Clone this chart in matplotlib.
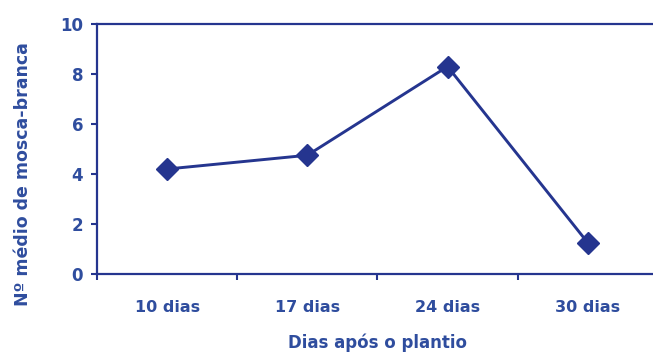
import matplotlib
matplotlib.use("Agg")
import matplotlib.pyplot as plt
import numpy as np

# data
categorias = ["10 dias", "17 dias", "24 dias", "30 dias"]
media_mosca = [4.2, 4.75, 8.3, 1.25]
y_ticks = [0, 2, 4, 6, 8, 10]

cor_linha = "#25358f"
cor_texto = "#2f4d9e"

fig = plt.figure(figsize=(6.53, 3.56), dpi=100)
ax = fig.add_axes([0.1485, 0.2303, 0.859, 0.7022])

x = np.arange(len(categorias))
ax.plot(x, media_mosca, color=cor_linha, linewidth=2.1,
        marker="D", markersize=11, markerfacecolor=cor_linha,
        markeredgecolor=cor_linha)

ax.set_xlim(-0.5, len(categorias) - 0.5)
ax.set_ylim(0, 10)
ax.set_yticks(y_ticks)
ax.set_yticklabels([str(v) for v in y_ticks], fontsize=12,
                   fontweight="bold", color=cor_texto)

# category labels centred, tick marks between categories
ax.set_xticks(x)
ax.set_xticklabels(categorias, fontsize=11.5, fontweight="bold", color=cor_texto)
ax.tick_params(axis="x", which="major", length=0, pad=19)
ax.set_xticks(np.arange(len(categorias) + 1) - 0.5, minor=True)
ax.tick_params(axis="x", which="minor", length=4, width=1.5,
               color=cor_linha, direction="out")
ax.tick_params(axis="y", length=4, width=1.5, color=cor_linha, pad=6)

for lado in ["left", "bottom", "top"]:
    ax.spines[lado].set_color(cor_linha)
    ax.spines[lado].set_linewidth(1.6)
ax.spines["right"].set_visible(False)

ax.set_xlabel("Dias após o plantio", fontsize=12, fontweight="bold",
              color=cor_texto, labelpad=13)
ax.set_ylabel("Nº médio de mosca-branca", fontsize=12.5, fontweight="bold",
              color=cor_texto)
ax.yaxis.set_label_coords(-0.116, 0.40)

fig.savefig("out.png", dpi=100)
